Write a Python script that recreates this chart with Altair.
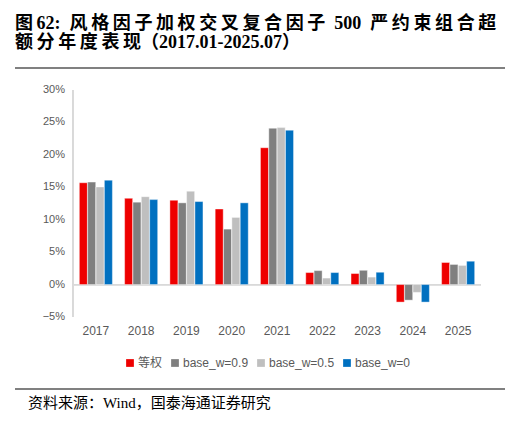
import pandas as pd
import altair as alt

years = ["2017", "2018", "2019", "2020", "2021", "2022", "2023", "2024", "2025"]
series = ["等权", "base_w=0.9", "base_w=0.5", "base_w=0"]
colors = ["#EE0000", "#7F7F7F", "#BFBFBF", "#0070C0"]

equal_w = [15.7, 13.3, 13.0, 11.65, 21.1, 1.85, 1.7, -2.7, 3.4]
base_09 = [15.8, 12.7, 12.6, 8.55, 24.1, 2.15, 2.2, -2.4, 3.1]
base_05 = [15.05, 13.55, 14.4, 10.35, 24.2, 1.0, 1.15, -1.2, 2.95]
base_0 = [16.1, 13.1, 12.8, 12.6, 23.8, 1.85, 1.9, -2.7, 3.6]

y_ticks = [-0.05, 0.0, 0.05, 0.10, 0.15, 0.20, 0.25, 0.30]

title_line1 = ["图", "62:", "风格因子加权交叉复合因子", "500", "严约束组合超"]
title_line2 = ["额分年度表现", "（2017.01-2025.07）"]
source_text = "资料来源：Wind，国泰海通证券研究"

rows = []
for name, vals in zip(series, [equal_w, base_09, base_05, base_0]):
    for yr, v in zip(years, vals):
        rows.append({"year": yr, "series": name, "value": v / 100})
df = pd.DataFrame(rows)

# the report's title is typeset with letter spacing; thin spaces stand in for it
THIN = "\u2009"
NBSP = "\u00a0"
line1 = (
    title_line1[0] + THIN + title_line1[1] + NBSP * 2
    + THIN.join(title_line1[2]) + NBSP * 2 + title_line1[3] + NBSP * 2
    + THIN.join(title_line1[4])
)
line2 = THIN.join(title_line2[0]) + title_line2[1]

W, H = 408, 227
label_font = "Liberation Sans, Noto Sans CJK SC"
text_font = "Liberation Serif, Noto Sans CJK SC"
y_scale = alt.Scale(domain=[-0.05, 0.30], nice=False)

bars = (
    alt.Chart(df)
    .mark_bar(stroke="white", strokeWidth=0.4)
    .encode(
        x=alt.X(
            "year:N",
            sort=years,
            title=None,
            scale=alt.Scale(paddingInner=0.27, paddingOuter=0.14),
            axis=alt.Axis(
                domain=False, ticks=False, labelAngle=0, labelColor="#595959",
                labelFont=label_font, labelFontSize=12, labelPadding=8,
            ),
        ),
        xOffset=alt.XOffset("series:N", sort=series, scale=alt.Scale(paddingInner=0.04)),
        y=alt.Y("value:Q", title=None, scale=y_scale, axis=None),
        color=alt.Color(
            "series:N",
            sort=series,
            scale=alt.Scale(domain=series, range=colors),
            legend=alt.Legend(
                title=None, orient="none", legendX=51, legendY=267, direction="horizontal",
                columns=4, symbolType="square", symbolSize=60, symbolStrokeWidth=0,
                labelColor="#595959", labelFont=label_font, labelFontSize=12,
                columnPadding=6, labelOffset=2,
            ),
        ),
    )
)

# y axis: labels through the shared y scale, plus the axis line
y_labels = alt.Chart(pd.DataFrame({"v": y_ticks})).mark_text(
    align="right", baseline="middle", font=label_font, fontSize=11, color="#595959",
).encode(
    y=alt.Y("v:Q", scale=y_scale, axis=None),
    text=alt.Text("v:Q", format=".0%"),
    x=alt.value(-8),
)
y_domain = alt.Chart(df).mark_rule(color="#D9D9D9", strokeWidth=1).encode(
    x=alt.value(0), y=alt.value(0), y2=alt.value(H)
)
zero_line = alt.Chart(df).mark_rule(color="#D9D9D9", strokeWidth=1).encode(
    y=alt.Y(datum=0, scale=y_scale, axis=None), x=alt.value(0), x2=alt.value(W)
)


def title_text(txt, y):
    return alt.Chart(pd.DataFrame({"t": [txt]})).mark_text(
        align="left", baseline="alphabetic", font=text_font, fontSize=18,
        fontWeight="bold", color="black",
    ).encode(text="t:N", x=alt.value(-58), y=alt.value(y))


top_rule = alt.Chart(df).mark_rule(color="#808080", strokeWidth=1.5).encode(
    x=alt.value(-58), x2=alt.value(432), y=alt.value(-22)
)
bottom_rule = alt.Chart(df).mark_rule(color="#808080", strokeWidth=1.5).encode(
    x=alt.value(-58), x2=alt.value(432), y=alt.value(299)
)
source = alt.Chart(pd.DataFrame({"t": [source_text]})).mark_text(
    align="left", baseline="alphabetic", font=text_font, fontSize=15, color="black",
).encode(text="t:N", x=alt.value(-45), y=alt.value(318))

chart = (
    alt.layer(
        y_domain, zero_line, bars, y_labels,
        title_text(line1, -61), title_text(line2, -42),
        top_rule, bottom_rule, source,
    )
    .properties(
        width=W, height=H,
        autosize=alt.AutoSizeParams(type="none"),
        padding={"left": 65, "top": 82, "right": 31, "bottom": 102},
        background="white",
    )
    .configure_view(stroke=None)
)

chart.save("out.html", embed_options={"renderer": "svg", "actions": False})
